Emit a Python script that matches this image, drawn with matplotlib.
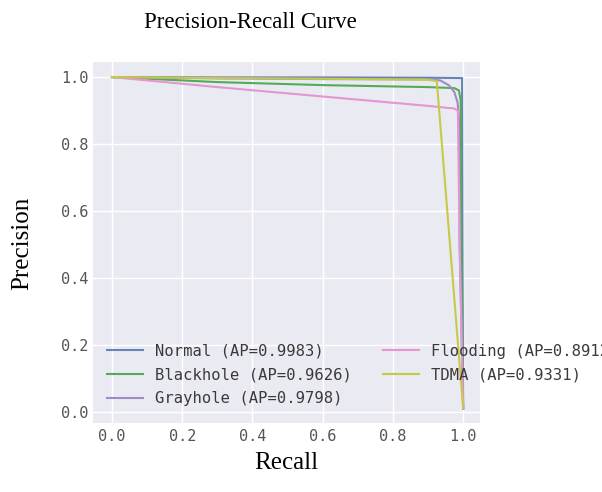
import matplotlib
matplotlib.use("Agg")
import matplotlib.pyplot as plt

# ---- data ----
labels = ["Normal (AP=0.9983)", "Blackhole (AP=0.9626)", "Grayhole (AP=0.9798)",
          "Flooding (AP=0.8912)", "TDMA (AP=0.9331)"]
colors = ["#6286b6", "#55aa55", "#a08ac6", "#e496d2", "#c6cb46"]

normal_recall = [0.0, 0.30, 0.60, 0.90, 0.997, 0.998, 1.0]
normal_prec   = [1.0, 0.999, 0.999, 0.998, 0.997, 0.50, 0.01]

black_recall = [0.0, 0.30, 0.60, 0.90, 0.975, 0.988, 0.993, 0.995, 1.0]
black_prec   = [1.0, 0.985, 0.976, 0.970, 0.967, 0.960, 0.93, 0.50, 0.01]

gray_recall = [0.0, 0.30, 0.60, 0.90, 0.935, 0.960, 0.975, 0.984, 0.988, 0.990, 1.0]
gray_prec   = [1.0, 0.996, 0.994, 0.993, 0.990, 0.975, 0.955, 0.925, 0.88, 0.50, 0.01]

flood_recall = [0.0, 0.30, 0.60, 0.90, 0.975, 0.985, 0.990, 1.0]
flood_prec   = [1.0, 0.970, 0.942, 0.914, 0.906, 0.90, 0.50, 0.01]

tdma_recall = [0.0, 0.30, 0.60, 0.90, 0.925, 1.0]
tdma_prec   = [1.0, 0.997, 0.995, 0.992, 0.988, 0.012]

series = [(normal_recall, normal_prec), (black_recall, black_prec),
          (gray_recall, gray_prec), (flood_recall, flood_prec),
          (tdma_recall, tdma_prec)]

ticks = [0.0, 0.2, 0.4, 0.6, 0.8, 1.0]
tick_labels = ["0.0", "0.2", "0.4", "0.6", "0.8", "1.0"]

# ---- figure ----
fig = plt.figure(figsize=(6.02, 4.92), dpi=100)
ax = fig.add_axes([93 / 602, 1 - 423 / 492, 387 / 602, 361 / 492])
ax.set_facecolor("#eaeaf2")
for s in ax.spines.values():
    s.set_visible(False)
ax.grid(True, color="white", linewidth=1.0)
ax.set_axisbelow(True)

for (r, p), c, lab in zip(series, colors, labels):
    ax.plot(r, p, color=c, linewidth=1.5, label=lab)

ax.set_xlim(-0.054, 1.048)
ax.set_ylim(-0.033, 1.045)
ax.set_xticks(ticks)
ax.set_xticklabels(tick_labels)
ax.set_yticks(ticks)
ax.set_yticklabels(tick_labels)
ax.tick_params(length=0, labelsize=11, labelcolor="#555555")
ax.tick_params(axis="x", pad=4)
ax.tick_params(axis="y", pad=3)
for t in ax.get_xticklabels() + ax.get_yticklabels():
    t.set_family("DejaVu Sans Mono")

# The reference's legend runs past the right edge of the picture (its Flooding
# label is cut off there), so the legend is kept at the same place and size.
leg = ax.legend(loc="lower left", bbox_to_anchor=(0.02, 0.03), ncol=2, frameon=False,
                prop={"family": "DejaVu Sans Mono", "size": 11.2},
                handlelength=2.3, handletextpad=0.8, columnspacing=2.0,
                labelspacing=0.56, borderaxespad=0.0)
for t in leg.get_texts():
    t.set_color("#3a3a3a")

serif = ["Liberation Serif", "DejaVu Serif"]
fig.text(250 / 602, 1 - 23 / 492, "Precision-Recall Curve", ha="center", va="center",
         family=serif, fontsize=16.5)
fig.text(286 / 602, 1 - 463 / 492, "Recall", ha="center", va="center",
         family=serif, fontsize=18)
fig.text(22 / 602, 1 - 243 / 492, "Precision", ha="center", va="center",
         rotation=90, family=serif, fontsize=18)

fig.savefig("out.png", dpi=100)
